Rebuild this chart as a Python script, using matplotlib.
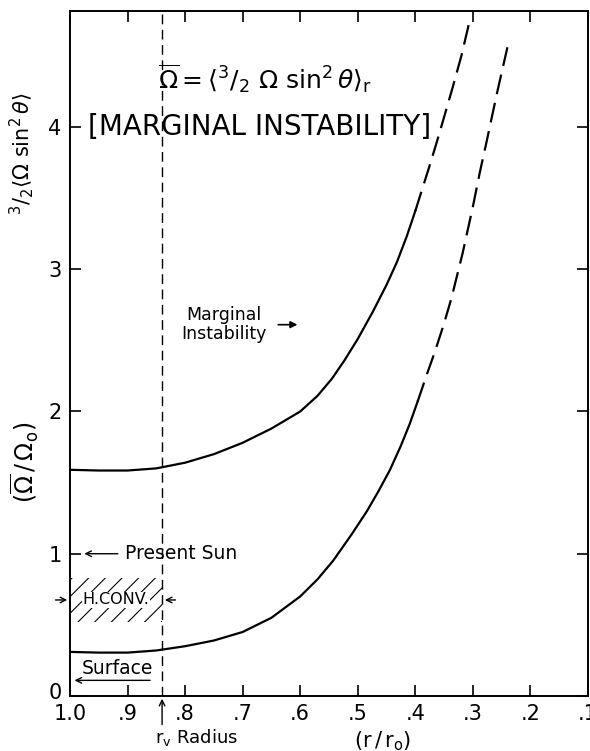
import matplotlib
matplotlib.use("Agg")
import matplotlib.pyplot as plt
import matplotlib.transforms as mtransforms
from matplotlib.patches import Rectangle

plt.rcParams["font.family"] = ["DejaVu Sans"]
plt.rcParams["mathtext.fontset"] = "dejavusans"
plt.rcParams["hatch.linewidth"] = 0.8

# upper curve (marginal instability, Omega-bar / Omega_o)
upper_x = [1.0, 0.95, 0.90, 0.85, 0.80, 0.75, 0.70, 0.65, 0.60, 0.57, 0.545,
           0.523, 0.50, 0.474, 0.45, 0.432, 0.415, 0.40]
upper_y = [1.59, 1.585, 1.585, 1.60, 1.64, 1.70, 1.78, 1.88, 2.00, 2.11, 2.23,
           2.36, 2.51, 2.70, 2.89, 3.05, 3.23, 3.41]
upper_dash_x = [0.40, 0.375, 0.363, 0.35, 0.335, 0.32, 0.306]
upper_dash_y = [3.41, 3.73, 3.89, 4.07, 4.28, 4.50, 4.74]

# lower curve
lower_x = [1.0, 0.95, 0.90, 0.85, 0.80, 0.75, 0.70, 0.65, 0.60, 0.57, 0.543,
           0.51, 0.484, 0.464, 0.444, 0.425, 0.41, 0.396]
lower_y = [0.31, 0.305, 0.305, 0.32, 0.35, 0.39, 0.45, 0.55, 0.70, 0.82, 0.95,
           1.14, 1.30, 1.44, 1.59, 1.76, 1.91, 2.07]
lower_dash_x = [0.396, 0.38, 0.366, 0.35, 0.337, 0.318, 0.30, 0.288, 0.276, 0.258, 0.240]
lower_dash_y = [2.07, 2.26, 2.42, 2.62, 2.80, 3.11, 3.44, 3.68, 3.90, 4.24, 4.56]

r_v = 0.84
hconv_y = [0.52, 0.83]
x_ticks = [1.0, 0.9, 0.8, 0.7, 0.6, 0.5, 0.4, 0.3, 0.2, 0.1]
x_tick_labels = ["1.0", ".9", ".8", ".7", ".6", ".5", ".4", ".3", ".2", ".1"]
y_ticks = [0, 1, 2, 3, 4]

fig = plt.figure(figsize=(5.9, 7.51), dpi=100)
ax = fig.add_axes([70 / 590, 1 - 696 / 751, 518 / 590, 685 / 751])

ax.plot(upper_x, upper_y, color="black", lw=1.6)
ax.plot(upper_dash_x, upper_dash_y, color="black", lw=1.6, dashes=(9, 4))
ax.plot(lower_x, lower_y, color="black", lw=1.6)
ax.plot(lower_dash_x, lower_dash_y, color="black", lw=1.6, dashes=(9, 4))

ax.axvline(r_v, color="black", lw=1.0, dashes=(7, 4))

ax.add_patch(Rectangle((r_v, hconv_y[0]), 1.0 - r_v, hconv_y[1] - hconv_y[0],
                       fill=False, lw=0, hatch="//"))

ax.set_xlim(1.0, 0.1)
ax.set_ylim(0, 4.815)
ax.set_xticks(x_ticks)
ax.set_xticklabels(x_tick_labels)
ax.set_yticks(y_ticks)
ax.tick_params(direction="in", length=8, width=1.2, labelsize=15,
               top=True, right=True, pad=6)
for s in ax.spines.values():
    s.set_linewidth(1.4)

# lift the "0" a bit so it clears "1.0"
zero_lbl = ax.get_yticklabels()[0]
zero_lbl.set_transform(zero_lbl.get_transform() +
                       mtransforms.ScaledTranslation(0, 5 / 100, fig.dpi_scale_trans))

ax.text(0.661, 4.34, r"$\overline{\Omega} = \langle ^3/_2\ \Omega\ \sin^2\theta\rangle_{\rm r}$",
        ha="center", va="center", fontsize=18)
ax.text(0.67, 4.0, "[MARGINAL INSTABILITY]", ha="center", va="center", fontsize=20)

ax.text(0.733, 2.61, "Marginal\nInstability", ha="center", va="center",
        fontsize=12.5, linespacing=1.1)
ax.annotate("", xy=(0.60, 2.61), xytext=(0.643, 2.61),
            arrowprops=dict(arrowstyle="-|>", color="black", lw=1.2))

ax.annotate("", xy=(0.98, 1.0), xytext=(0.912, 1.0),
            arrowprops=dict(arrowstyle="->", color="black", lw=1.0))
ax.text(0.905, 1.0, "Present Sun", ha="left", va="center", fontsize=13.5)

ax.text(0.92, 0.675, "H.CONV.", ha="center", va="center", fontsize=11.5,
        bbox=dict(facecolor="white", edgecolor="none", pad=0.5))
ax.annotate("", xy=(1.0, 0.675), xytext=(1.03, 0.675),
            arrowprops=dict(arrowstyle="->", color="black", lw=1.0),
            annotation_clip=False)
ax.annotate("", xy=(r_v, 0.675), xytext=(0.812, 0.675),
            arrowprops=dict(arrowstyle="->", color="black", lw=1.0))

ax.text(0.917, 0.19, "Surface", ha="center", va="center", fontsize=13.5)
ax.annotate("", xy=(0.997, 0.11), xytext=(0.856, 0.11),
            arrowprops=dict(arrowstyle="->", color="black", lw=1.0))

ax.annotate("", xy=(r_v, 0.0), xytext=(r_v, -0.22),
            arrowprops=dict(arrowstyle="->", color="black", lw=1.0),
            annotation_clip=False)
fig.text(155 / 590, 1 - 737 / 751, r"$\rm r_v$ Radius", ha="left", va="center",
         fontsize=13)
fig.text(383 / 590, 1 - 741 / 751, r"$(\rm r\,/\,r_o)$", ha="center", va="center",
         fontsize=15)

fig.text(25 / 590, 1 - 462 / 751, r"$(\overline{\Omega}\,/\,\Omega_{\rm o})$",
         ha="center", va="center", rotation=90, fontsize=17)
fig.text(22 / 590, 1 - 154 / 751, r"$^3/_2\langle\Omega\ \sin^2\theta\rangle$",
         ha="center", va="center", rotation=90, fontsize=15)

fig.savefig("out.png", dpi=100)
